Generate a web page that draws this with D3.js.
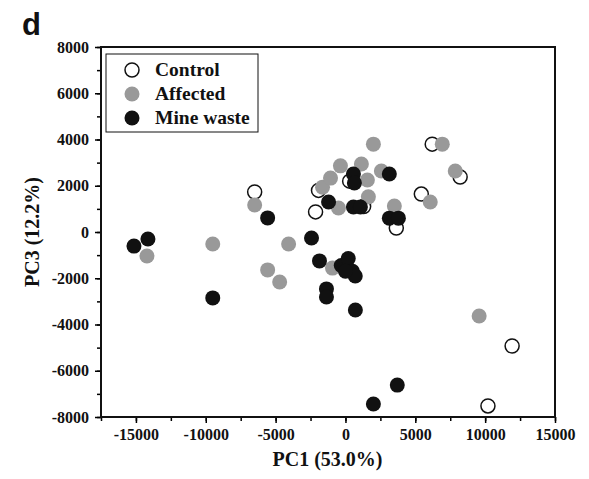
<!DOCTYPE html>
<html>
<head>
<meta charset="utf-8">
<script src="https://cdn.jsdelivr.net/npm/d3@7"></script>
<style>
  body { margin: 0; background: #fff; }
  text { font-family: "Liberation Serif", "Times New Roman", serif; font-weight: bold; }
</style>
</head>
<body>
<svg width="589" height="479"></svg>
<script>
// PCA scores, [PC1, PC3]
const controlPts = [
  [-6500, 1730], [-1930, 1800], [-2140, 870], [300, 2200], [1300, 1100],
  [3640, 170], [5430, 1640], [6210, 3800], [8210, 2380], [11930, -4930], [10200, -7520]
];
const affectedPts = [
  [-14210, -1040], [-9500, -520], [-6500, 1170], [-4070, -520], [-5570, -1640],
  [-4710, -2160], [-1640, 1940], [-1070, 2330], [-360, 2860], [1140, 2940],
  [2000, 3800], [2570, 2640], [1570, 2250], [1640, 1520], [-500, 1040],
  [3500, 1120], [6070, 1300], [6930, 3800], [7860, 2640], [9570, -3630], [-930, -1560]
];
const minePts = [
  [-15140, -610], [-14140, -300], [-9500, -2850], [-5570, 610], [-2430, -260],
  [-1860, -1250], [-300, -1450], [200, -1150], [500, -1700], [700, -1900],
  [0, -1700], [-1360, -2460], [-1360, -2810], [710, -3370], [3710, -6620],
  [2000, -7440], [-1210, 1300], [570, 2510], [640, 2120], [570, 1080],
  [1070, 1080], [3140, 2510], [3140, 600], [3790, 600]
];
const groups = ['Control', 'Affected', 'Mine waste'];
const xTicks = [-15000, -10000, -5000, 0, 5000, 10000, 15000];
const yTicks = [-8000, -6000, -4000, -2000, 0, 2000, 4000, 6000, 8000];

const svg = d3.select('svg');
const pLeft = 101, pRight = 555, pTop = 47, pBottom = 417;
const r = 7.5;

const x = d3.scaleLinear().domain([-17500, 15000]).range([pLeft, pRight]);
const y = d3.scaleLinear().domain([-8000, 8000]).range([pBottom, pTop]);

// minor ticks first
svg.append('g')
  .attr('transform', `translate(0,${pBottom})`)
  .call(d3.axisBottom(x).tickValues(d3.range(-17500, 15001, 2500)).tickSize(4).tickFormat(''))
  .call(g => g.select('.domain').remove())
  .selectAll('line').attr('stroke-width', 1.5);
svg.append('g')
  .attr('transform', `translate(${pLeft},0)`)
  .call(d3.axisLeft(y).tickValues(d3.range(-8000, 8001, 1000)).tickSize(4).tickFormat(''))
  .call(g => g.select('.domain').remove())
  .selectAll('line').attr('stroke-width', 1.5);

// major ticks + labels
const xAxis = svg.append('g')
  .attr('transform', `translate(0,${pBottom})`)
  .call(d3.axisBottom(x).tickValues(xTicks).tickSize(6).tickPadding(6).tickFormat(d => d))
  .call(g => g.select('.domain').remove());
xAxis.selectAll('line').attr('stroke-width', 1.5);
xAxis.selectAll('text').attr('font-size', 16).attr('fill', '#111')
  .style('font-family', '"Liberation Serif", serif');

const yAxis = svg.append('g')
  .attr('transform', `translate(${pLeft},0)`)
  .call(d3.axisLeft(y).tickValues(yTicks).tickSize(6).tickPadding(6).tickFormat(d => d))
  .call(g => g.select('.domain').remove());
yAxis.selectAll('line').attr('stroke-width', 1.5);
yAxis.selectAll('text').attr('font-size', 16).attr('fill', '#111')
  .style('font-family', '"Liberation Serif", serif');

// frame
svg.append('rect')
  .attr('x', pLeft).attr('y', pTop)
  .attr('width', pRight - pLeft).attr('height', pBottom - pTop)
  .attr('fill', 'none').attr('stroke', '#111').attr('stroke-width', 2);

// points: control under affected under mine waste
const plot = svg.append('g');
plot.selectAll('.ctrl').data(controlPts).enter().append('circle')
  .attr('class', 'ctrl')
  .attr('cx', d => x(d[0])).attr('cy', d => y(d[1])).attr('r', r - 0.5)
  .attr('fill', '#fff').attr('stroke', '#111').attr('stroke-width', 1.5);
plot.selectAll('.aff').data(affectedPts).enter().append('circle')
  .attr('class', 'aff')
  .attr('cx', d => x(d[0])).attr('cy', d => y(d[1])).attr('r', r)
  .attr('fill', '#999');
plot.selectAll('.mine').data(minePts).enter().append('circle')
  .attr('class', 'mine')
  .attr('cx', d => x(d[0])).attr('cy', d => y(d[1])).attr('r', r)
  .attr('fill', '#111');

// legend
const legend = svg.append('g');
legend.append('rect')
  .attr('x', 106).attr('y', 54).attr('width', 152).attr('height', 78)
  .attr('fill', '#fff').attr('stroke', '#111').attr('stroke-width', 1);
const legStyle = [
  { fill: '#fff', stroke: '#111' },
  { fill: '#999', stroke: 'none' },
  { fill: '#111', stroke: 'none' }
];
groups.forEach((name, i) => {
  const cy = 70 + i * 24;
  legend.append('circle')
    .attr('cx', 132).attr('cy', cy).attr('r', legStyle[i].stroke === 'none' ? r : r - 0.5)
    .attr('fill', legStyle[i].fill).attr('stroke', legStyle[i].stroke).attr('stroke-width', 1.5);
  legend.append('text')
    .attr('x', 155).attr('y', cy + 6)
    .attr('font-size', 19.5).attr('fill', '#111')
    .text(name);
});

// axis titles
svg.append('text')
  .attr('x', 327.5).attr('y', 466)
  .attr('text-anchor', 'middle').attr('font-size', 20).attr('fill', '#111')
  .text('PC1 (53.0%)');
svg.append('text')
  .attr('transform', `translate(39,${(pTop + pBottom) / 2}) rotate(-90)`)
  .attr('text-anchor', 'middle').attr('font-size', 20).attr('fill', '#111')
  .text('PC3 (12.2%)');

// panel letter
svg.append('text')
  .attr('x', 22).attr('y', 35)
  .style('font-family', '"Liberation Sans", Arial, sans-serif')
  .attr('font-size', 31).attr('fill', '#111')
  .text('d');
</script>
</body>
</html>
